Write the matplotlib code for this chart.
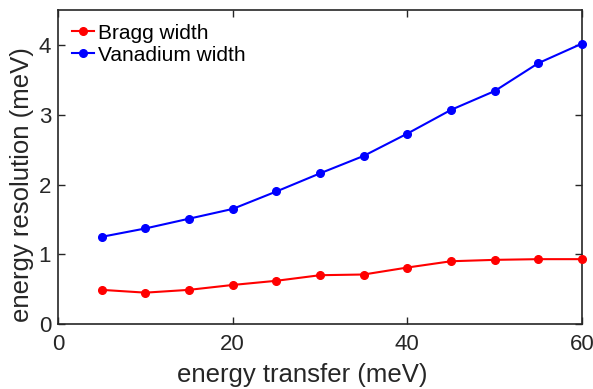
import matplotlib
matplotlib.use("Agg")
import matplotlib.pyplot as plt

plt.rcParams['font.family'] = ['Liberation Sans', 'DejaVu Sans']

energy_transfer = [5, 10, 15, 20, 25, 30, 35, 40, 45, 50, 55, 60]
bragg_width = [0.49, 0.45, 0.49, 0.56, 0.62, 0.70, 0.71, 0.81, 0.90, 0.92, 0.93, 0.93]
vanadium_width = [1.25, 1.37, 1.51, 1.65, 1.90, 2.16, 2.41, 2.73, 3.07, 3.34, 3.74, 4.02]
x_ticks = [0, 20, 40, 60]
y_ticks = [0, 1, 2, 3, 4]

text_color = '#262626'

fig = plt.figure(figsize=(5.93, 3.89), dpi=100)
ax = fig.add_axes([0.0978, 0.167, 0.8837, 0.807])

ax.plot(energy_transfer, bragg_width, '-o', color='#ff0000', lw=1.5, ms=5.5,
        label='Bragg width', clip_on=False, zorder=3)
ax.plot(energy_transfer, vanadium_width, '-o', color='#0000ff', lw=1.5, ms=5.5,
        label='Vanadium width', clip_on=False, zorder=3)

ax.set_xlim(0, 60)
ax.set_ylim(0, 4.5)
ax.set_xticks(x_ticks)
ax.set_yticks(y_ticks)
ax.tick_params(direction='in', top=True, right=True, length=5, width=1.0,
               labelsize=16, colors=text_color)
ax.tick_params(axis='x', pad=7)
ax.tick_params(axis='y', pad=5)
for s in ax.spines.values():
    s.set_linewidth(1.2)
    s.set_color(text_color)

ax.set_xlabel('energy transfer (meV)', fontsize=18.5, color=text_color)
ax.set_ylabel('energy resolution (meV)', fontsize=18.5, color=text_color)
ax.xaxis.set_label_coords(0.466, -0.125)
ax.yaxis.set_label_coords(-0.045, 0.443)

leg = ax.legend(loc='upper left', frameon=False, fontsize=15, handlelength=1.1,
                handletextpad=0.15, borderaxespad=0.3, labelspacing=0.15,
                borderpad=0.35)
for t in leg.get_texts():
    t.set_color('black')

fig.savefig('out.png', dpi=100)
